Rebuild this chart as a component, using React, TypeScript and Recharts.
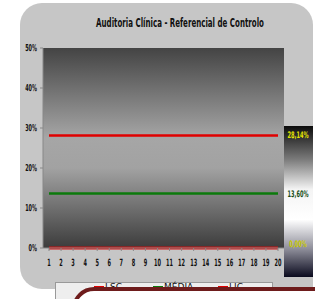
import React from 'react';
import { LineChart, Line, XAxis, YAxis, CartesianGrid } from 'recharts';

const AMOSTRAS = ['1', '2', '3', '4', '5', '6', '7', '8', '9', '10', '11', '12', '13', '14', '15', '16', '17', '18', '19', '20'];
const LSC = [28.14, 28.14, 28.14, 28.14, 28.14, 28.14, 28.14, 28.14, 28.14, 28.14, 28.14, 28.14, 28.14, 28.14, 28.14, 28.14, 28.14, 28.14, 28.14, 28.14];
const MEDIA = [13.6, 13.6, 13.6, 13.6, 13.6, 13.6, 13.6, 13.6, 13.6, 13.6, 13.6, 13.6, 13.6, 13.6, 13.6, 13.6, 13.6, 13.6, 13.6, 13.6];
const LIC = [0, 0, 0, 0, 0, 0, 0, 0, 0, 0, 0, 0, 0, 0, 0, 0, 0, 0, 0, 0];
const Y_TICKS = [0, 10, 20, 30, 40, 50];

const FONT = "'DejaVu Sans', sans-serif";

const data = AMOSTRAS.map((a, i) => ({ amostra: a, LSC: LSC[i], MEDIA: MEDIA[i], LIC: LIC[i] }));

const pct = (v: number) => v.toFixed(2).replace('.', ',') + '%';

// narrow text: squeeze horizontally to mimic the condensed font of the original
const Narrow = ({ x, y, anchor, size, color, weight, sx, children }: any) => (
  <g transform={`translate(${x},${y}) scale(${sx},1)`}>
    <text x={0} y={0} textAnchor={anchor} fontSize={size} fill={color} fontFamily={FONT} fontWeight={weight}>
      {children}
    </text>
  </g>
);

const XTick = (props: any) => {
  const { x, y, payload } = props;
  return (
    <Narrow x={x} y={y + 13} anchor="middle" size={10} color="#111" weight="bold" sx={0.5}>
      {payload.value}
    </Narrow>
  );
};

const YTick = (props: any) => {
  const { x, y, payload } = props;
  return (
    <Narrow x={x - 1} y={y + 3} anchor="end" size={9.5} color="#111" weight="bold" sx={0.52}>
      {`${payload.value}%`}
    </Narrow>
  );
};

// value tag drawn to the right of the plot, only on the last point
const endLabel = (color: string) => (props: any) => {
  const { x, y, index, value } = props;
  if (index !== AMOSTRAS.length - 1) return null;
  return (
    <Narrow x={x + 20} y={y + (value === 0 ? -1 : 3)} anchor="middle" size={9} color={color} weight="bold" sx={0.56}>
      {pct(value)}
    </Narrow>
  );
};

export default function App() {
  return (
    <div style={{ position: 'fixed', left: 0, top: 0, width: 315, height: 299, overflow: 'hidden', background: '#fff', fontFamily: FONT }}>
      {/* rounded chart panel */}
      <div style={{ position: 'absolute', left: 20, top: 3, width: 293, height: 286, background: '#c6c6c6', borderRadius: '22px 22px 0 22px' }} />
      {/* value box on the right */}
      <div
        style={{
          position: 'absolute', left: 284, top: 126, width: 29, height: 151,
          background: 'linear-gradient(to bottom, #0c0c0c 0%, #7a7a7a 22%, #f4f4f4 42%, #ffffff 62%, #8a8a96 82%, #0a0a1e 100%)',
        }}
      />
      <svg style={{ position: 'absolute', left: 0, top: 0 }} width={315} height={40}>
        <Narrow x={180} y={27} anchor="middle" size={13} color="#111" weight="bold" sx={0.545}>
          Auditoria Clínica - Referencial de Controlo
        </Narrow>
      </svg>
      <div style={{ position: 'absolute', left: 0, top: 0 }}>
        <LineChart width={315} height={299} data={data} margin={{ top: 48, right: 31, bottom: 31, left: 0 }}>
          <defs>
            <linearGradient id="plotBg" x1="0" y1="0" x2="0" y2="1">
              <stop offset="0%" stopColor="#444444" />
              <stop offset="45%" stopColor="#a6a6a6" />
              <stop offset="60%" stopColor="#a2a2a2" />
              <stop offset="100%" stopColor="#3c3c3c" />
            </linearGradient>
          </defs>
          <CartesianGrid fill="url(#plotBg)" horizontal={false} vertical={false} stroke="none" />
          <XAxis
            dataKey="amostra"
            height={20}
            padding={{ left: 6, right: 6 }}
            interval={0}
            tick={<XTick />}
            tickLine={{ stroke: '#888' }}
            tickSize={3}
            axisLine={{ stroke: '#888' }}
          />
          <YAxis
            width={43}
            domain={[0, 50]}
            ticks={Y_TICKS}
            tick={<YTick />}
            tickLine={{ stroke: '#888' }}
            tickSize={3}
            axisLine={{ stroke: '#888' }}
          />
          <Line dataKey="LSC" stroke="#e00000" strokeWidth={2.5} dot={false} isAnimationActive={false} label={endLabel('#e6e600')} />
          <Line dataKey="MEDIA" stroke="#0b7a0b" strokeWidth={2.5} dot={false} isAnimationActive={false} label={endLabel('#174d17')} />
          <Line dataKey="LIC" stroke="#d01010" strokeWidth={3} dot={false} isAnimationActive={false} label={endLabel('#c8c800')} />
        </LineChart>
      </div>
      {/* legend */}
      <div style={{ position: 'absolute', left: 55, top: 282, width: 216, height: 20, background: '#eeeeee', border: '1px solid #999', fontSize: 9 }}>
        {[
          { name: 'LSC', color: '#e00000', x: 38 },
          { name: 'MÉDIA', color: '#0b7a0b', x: 97 },
          { name: 'LIC', color: '#e00000', x: 162 },
        ].map((it) => (
          <div key={it.name} style={{ position: 'absolute', left: it.x, top: -1, display: 'flex', alignItems: 'center' }}>
            <span style={{ display: 'inline-block', width: 10, height: 2, background: it.color, marginRight: 1 }} />
            <span style={{ color: '#111' }}>{it.name}</span>
          </div>
        ))}
      </div>
      {/* overlapping framed box */}
      <div style={{ position: 'absolute', left: 72, top: 287, width: 260, height: 60, border: '4px solid #6e1c1c', borderRadius: 22, background: '#fff' }} />
    </div>
  );
}
